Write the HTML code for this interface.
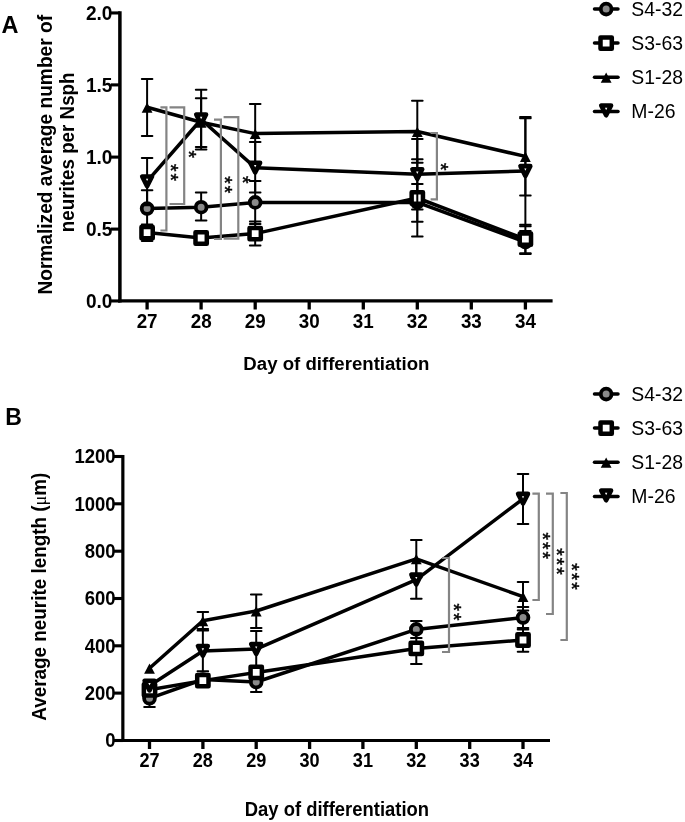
<!DOCTYPE html>
<html><head><meta charset="utf-8"><title>Figure</title>
<style>
html,body{margin:0;padding:0;background:#fff;}
svg{display:block;font-family:"Liberation Sans",sans-serif;fill:#000;will-change:transform;}
</style></head>
<body>
<svg width="685" height="822" viewBox="0 0 685 822">
<rect width="685" height="822" fill="#fff"/>
<g id="panelA">
<line x1="119.9" y1="11.3" x2="119.9" y2="302.55" stroke="#000" stroke-width="3.5"/>
<line x1="118.15" y1="300.95" x2="552.6" y2="300.95" stroke="#000" stroke-width="3.2"/>
<line x1="110.9" y1="12.95" x2="119.9" y2="12.95" stroke="#000" stroke-width="3.1"/>
<text transform="translate(112.40 19.85) scale(0.935,1)" font-size="20.4" font-weight="bold" text-anchor="end">2.0</text>
<line x1="110.9" y1="84.9" x2="119.9" y2="84.9" stroke="#000" stroke-width="3.1"/>
<text transform="translate(112.40 91.80) scale(0.935,1)" font-size="20.4" font-weight="bold" text-anchor="end">1.5</text>
<line x1="110.9" y1="157.1" x2="119.9" y2="157.1" stroke="#000" stroke-width="3.1"/>
<text transform="translate(112.40 164.00) scale(0.935,1)" font-size="20.4" font-weight="bold" text-anchor="end">1.0</text>
<line x1="110.9" y1="229.1" x2="119.9" y2="229.1" stroke="#000" stroke-width="3.1"/>
<text transform="translate(112.40 236.00) scale(0.935,1)" font-size="20.4" font-weight="bold" text-anchor="end">0.5</text>
<line x1="110.9" y1="300.95" x2="119.9" y2="300.95" stroke="#000" stroke-width="3.1"/>
<text transform="translate(112.40 307.85) scale(0.935,1)" font-size="20.4" font-weight="bold" text-anchor="end">0.0</text>
<line x1="147.1" y1="300.95" x2="147.1" y2="309.5" stroke="#000" stroke-width="3.3"/>
<text transform="translate(147.10 328.00) scale(0.965,1)" font-size="19.5" font-weight="bold" text-anchor="middle">27</text>
<line x1="201.1" y1="300.95" x2="201.1" y2="309.5" stroke="#000" stroke-width="3.3"/>
<text transform="translate(201.14 328.00) scale(0.965,1)" font-size="19.5" font-weight="bold" text-anchor="middle">28</text>
<line x1="255.2" y1="300.95" x2="255.2" y2="309.5" stroke="#000" stroke-width="3.3"/>
<text transform="translate(255.18 328.00) scale(0.965,1)" font-size="19.5" font-weight="bold" text-anchor="middle">29</text>
<line x1="309.2" y1="300.95" x2="309.2" y2="309.5" stroke="#000" stroke-width="3.3"/>
<text transform="translate(309.22 328.00) scale(0.965,1)" font-size="19.5" font-weight="bold" text-anchor="middle">30</text>
<line x1="363.3" y1="300.95" x2="363.3" y2="309.5" stroke="#000" stroke-width="3.3"/>
<text transform="translate(363.26 328.00) scale(0.965,1)" font-size="19.5" font-weight="bold" text-anchor="middle">31</text>
<line x1="417.3" y1="300.95" x2="417.3" y2="309.5" stroke="#000" stroke-width="3.3"/>
<text transform="translate(417.30 328.00) scale(0.965,1)" font-size="19.5" font-weight="bold" text-anchor="middle">32</text>
<line x1="471.3" y1="300.95" x2="471.3" y2="309.5" stroke="#000" stroke-width="3.3"/>
<text transform="translate(471.34 328.00) scale(0.965,1)" font-size="19.5" font-weight="bold" text-anchor="middle">33</text>
<line x1="525.4" y1="300.95" x2="525.4" y2="309.5" stroke="#000" stroke-width="3.3"/>
<text transform="translate(525.38 328.00) scale(0.965,1)" font-size="19.5" font-weight="bold" text-anchor="middle">34</text>
<text transform="translate(336.40 370.10) scale(0.98,1)" font-size="19.0" font-weight="bold" text-anchor="middle">Day of differentiation</text>
<text transform="translate(51.50 154.80) rotate(-90) scale(0.912,1)" font-size="21" font-weight="bold" text-anchor="middle">Normalized average number of</text>
<text transform="translate(74.20 152.30) rotate(-90) scale(0.926,1)" font-size="20.3" font-weight="bold" text-anchor="middle">neurites per Nsph</text>
<text x="1.6" y="33.2" font-size="23.5" font-weight="bold">A</text>
<g>
<line x1="147.10" y1="190.2" x2="147.10" y2="227.2" stroke="#000" stroke-width="2.0"/><line x1="141.80" y1="190.2" x2="152.40" y2="190.2" stroke="#000" stroke-width="2.0" stroke-linecap="round"/><line x1="141.80" y1="227.2" x2="152.40" y2="227.2" stroke="#000" stroke-width="2.0" stroke-linecap="round"/>
<line x1="201.14" y1="192.4" x2="201.14" y2="220.6" stroke="#000" stroke-width="2.0"/><line x1="195.84" y1="192.4" x2="206.44" y2="192.4" stroke="#000" stroke-width="2.0" stroke-linecap="round"/><line x1="195.84" y1="220.6" x2="206.44" y2="220.6" stroke="#000" stroke-width="2.0" stroke-linecap="round"/>
<line x1="255.18" y1="181" x2="255.18" y2="224.1" stroke="#000" stroke-width="2.0"/><line x1="249.88" y1="181" x2="260.48" y2="181" stroke="#000" stroke-width="2.0" stroke-linecap="round"/><line x1="249.88" y1="224.1" x2="260.48" y2="224.1" stroke="#000" stroke-width="2.0" stroke-linecap="round"/>
<line x1="417.30" y1="183.9" x2="417.30" y2="221.7" stroke="#000" stroke-width="2.0"/><line x1="412.00" y1="183.9" x2="422.60" y2="183.9" stroke="#000" stroke-width="2.0" stroke-linecap="round"/><line x1="412.00" y1="221.7" x2="422.60" y2="221.7" stroke="#000" stroke-width="2.0" stroke-linecap="round"/>
<line x1="525.38" y1="231" x2="525.38" y2="253.2" stroke="#000" stroke-width="2.0"/><line x1="520.08" y1="231" x2="530.68" y2="231" stroke="#000" stroke-width="2.0" stroke-linecap="round"/><line x1="520.08" y1="253.2" x2="530.68" y2="253.2" stroke="#000" stroke-width="2.0" stroke-linecap="round"/>
<polyline fill="none" stroke="#000" stroke-width="3.5" stroke-linejoin="round" points="147.10,208.60 201.14,207.20 255.18,202.40 417.30,202.40 525.38,242.10"/>
<circle cx="147.10" cy="208.60" r="5.4" fill="#8a8a8a" stroke="#000" stroke-width="3.8"/>
<circle cx="201.14" cy="207.20" r="5.4" fill="#8a8a8a" stroke="#000" stroke-width="3.8"/>
<circle cx="255.18" cy="202.40" r="5.4" fill="#8a8a8a" stroke="#000" stroke-width="3.8"/>
<circle cx="417.30" cy="202.40" r="5.4" fill="#8a8a8a" stroke="#000" stroke-width="3.8"/>
<circle cx="525.38" cy="242.10" r="5.4" fill="#8a8a8a" stroke="#000" stroke-width="3.8"/>
</g>
<g>
<line x1="147.10" y1="224.4" x2="147.10" y2="241.1" stroke="#000" stroke-width="2.0"/><line x1="141.80" y1="224.4" x2="152.40" y2="224.4" stroke="#000" stroke-width="2.0" stroke-linecap="round"/><line x1="141.80" y1="241.1" x2="152.40" y2="241.1" stroke="#000" stroke-width="2.0" stroke-linecap="round"/>
<line x1="255.18" y1="221.6" x2="255.18" y2="245.6" stroke="#000" stroke-width="2.0"/><line x1="249.88" y1="221.6" x2="260.48" y2="221.6" stroke="#000" stroke-width="2.0" stroke-linecap="round"/><line x1="249.88" y1="245.6" x2="260.48" y2="245.6" stroke="#000" stroke-width="2.0" stroke-linecap="round"/>
<line x1="417.30" y1="159.2" x2="417.30" y2="236.4" stroke="#000" stroke-width="2.0"/><line x1="412.00" y1="159.2" x2="422.60" y2="159.2" stroke="#000" stroke-width="2.0" stroke-linecap="round"/><line x1="412.00" y1="236.4" x2="422.60" y2="236.4" stroke="#000" stroke-width="2.0" stroke-linecap="round"/>
<line x1="525.38" y1="224.7" x2="525.38" y2="254.1" stroke="#000" stroke-width="2.0"/><line x1="520.08" y1="224.7" x2="530.68" y2="224.7" stroke="#000" stroke-width="2.0" stroke-linecap="round"/><line x1="520.08" y1="254.1" x2="530.68" y2="254.1" stroke="#000" stroke-width="2.0" stroke-linecap="round"/>
<polyline fill="none" stroke="#000" stroke-width="3.5" stroke-linejoin="round" points="147.10,232.60 201.14,238.00 255.18,233.60 417.30,198.00 525.38,239.20"/>
<rect x="141.45" y="226.95" width="11.3" height="11.3" fill="#fff" stroke="#000" stroke-width="4.5" stroke-linejoin="round"/>
<rect x="195.49" y="232.35" width="11.3" height="11.3" fill="#fff" stroke="#000" stroke-width="4.5" stroke-linejoin="round"/>
<rect x="249.53" y="227.95" width="11.3" height="11.3" fill="#fff" stroke="#000" stroke-width="4.5" stroke-linejoin="round"/>
<rect x="411.65" y="192.35" width="11.3" height="11.3" fill="#fff" stroke="#000" stroke-width="4.5" stroke-linejoin="round"/>
<rect x="519.73" y="233.55" width="11.3" height="11.3" fill="#fff" stroke="#000" stroke-width="4.5" stroke-linejoin="round"/>
</g>
<g>
<line x1="147.10" y1="79" x2="147.10" y2="136" stroke="#000" stroke-width="2.0"/><line x1="141.80" y1="79" x2="152.40" y2="79" stroke="#000" stroke-width="2.0" stroke-linecap="round"/><line x1="141.80" y1="136" x2="152.40" y2="136" stroke="#000" stroke-width="2.0" stroke-linecap="round"/>
<line x1="201.14" y1="98.3" x2="201.14" y2="147" stroke="#000" stroke-width="2.0"/><line x1="195.84" y1="98.3" x2="206.44" y2="98.3" stroke="#000" stroke-width="2.0" stroke-linecap="round"/><line x1="195.84" y1="147" x2="206.44" y2="147" stroke="#000" stroke-width="2.0" stroke-linecap="round"/>
<line x1="255.18" y1="103.9" x2="255.18" y2="163.6" stroke="#000" stroke-width="2.0"/><line x1="249.88" y1="103.9" x2="260.48" y2="103.9" stroke="#000" stroke-width="2.0" stroke-linecap="round"/><line x1="249.88" y1="163.6" x2="260.48" y2="163.6" stroke="#000" stroke-width="2.0" stroke-linecap="round"/>
<line x1="417.30" y1="100.8" x2="417.30" y2="162.8" stroke="#000" stroke-width="2.0"/><line x1="412.00" y1="100.8" x2="422.60" y2="100.8" stroke="#000" stroke-width="2.0" stroke-linecap="round"/><line x1="412.00" y1="162.8" x2="422.60" y2="162.8" stroke="#000" stroke-width="2.0" stroke-linecap="round"/>
<line x1="525.38" y1="118.2" x2="525.38" y2="195.4" stroke="#000" stroke-width="2.0"/><line x1="520.08" y1="118.2" x2="530.68" y2="118.2" stroke="#000" stroke-width="2.0" stroke-linecap="round"/><line x1="520.08" y1="195.4" x2="530.68" y2="195.4" stroke="#000" stroke-width="2.0" stroke-linecap="round"/>
<polyline fill="none" stroke="#000" stroke-width="3.5" stroke-linejoin="round" points="147.10,107.20 201.14,122.20 255.18,133.60 417.30,131.50 525.38,156.40"/>
<path d="M141.70,112.70 L152.50,112.70 L147.10,102.40 Z" fill="#000"/>
<path d="M195.74,127.70 L206.54,127.70 L201.14,117.40 Z" fill="#000"/>
<path d="M249.78,139.10 L260.58,139.10 L255.18,128.80 Z" fill="#000"/>
<path d="M411.90,137.00 L422.70,137.00 L417.30,126.70 Z" fill="#000"/>
<path d="M519.98,161.90 L530.78,161.90 L525.38,151.60 Z" fill="#000"/>
</g>
<g>
<line x1="147.10" y1="158.1" x2="147.10" y2="205.2" stroke="#000" stroke-width="2.0"/><line x1="141.80" y1="158.1" x2="152.40" y2="158.1" stroke="#000" stroke-width="2.0" stroke-linecap="round"/><line x1="141.80" y1="205.2" x2="152.40" y2="205.2" stroke="#000" stroke-width="2.0" stroke-linecap="round"/>
<line x1="201.14" y1="89.8" x2="201.14" y2="149.6" stroke="#000" stroke-width="2.0"/><line x1="195.84" y1="89.8" x2="206.44" y2="89.8" stroke="#000" stroke-width="2.0" stroke-linecap="round"/><line x1="195.84" y1="149.6" x2="206.44" y2="149.6" stroke="#000" stroke-width="2.0" stroke-linecap="round"/>
<line x1="255.18" y1="142" x2="255.18" y2="192.6" stroke="#000" stroke-width="2.0"/><line x1="249.88" y1="142" x2="260.48" y2="142" stroke="#000" stroke-width="2.0" stroke-linecap="round"/><line x1="249.88" y1="192.6" x2="260.48" y2="192.6" stroke="#000" stroke-width="2.0" stroke-linecap="round"/>
<line x1="417.30" y1="139" x2="417.30" y2="209.5" stroke="#000" stroke-width="2.0"/><line x1="412.00" y1="139" x2="422.60" y2="139" stroke="#000" stroke-width="2.0" stroke-linecap="round"/><line x1="412.00" y1="209.5" x2="422.60" y2="209.5" stroke="#000" stroke-width="2.0" stroke-linecap="round"/>
<line x1="525.38" y1="117.1" x2="525.38" y2="226.3" stroke="#000" stroke-width="2.0"/><line x1="520.08" y1="117.1" x2="530.68" y2="117.1" stroke="#000" stroke-width="2.0" stroke-linecap="round"/><line x1="520.08" y1="226.3" x2="530.68" y2="226.3" stroke="#000" stroke-width="2.0" stroke-linecap="round"/>
<polyline fill="none" stroke="#000" stroke-width="3.5" stroke-linejoin="round" points="147.10,181.40 201.14,119.50 255.18,167.70 417.30,174.20 525.38,171.10"/>
<path d="M142.20,176.45 L152.00,176.45 L147.10,186.15 Z" fill="#fff" stroke="#000" stroke-width="4.6" stroke-linejoin="round"/>
<path d="M196.24,114.55 L206.04,114.55 L201.14,124.25 Z" fill="#fff" stroke="#000" stroke-width="4.6" stroke-linejoin="round"/>
<path d="M250.28,162.75 L260.08,162.75 L255.18,172.45 Z" fill="#fff" stroke="#000" stroke-width="4.6" stroke-linejoin="round"/>
<path d="M412.40,169.25 L422.20,169.25 L417.30,178.95 Z" fill="#fff" stroke="#000" stroke-width="4.6" stroke-linejoin="round"/>
<path d="M520.48,166.15 L530.28,166.15 L525.38,175.85 Z" fill="#fff" stroke="#000" stroke-width="4.6" stroke-linejoin="round"/>
</g>
<polyline fill="none" stroke="#848484" stroke-width="2.2" points="160.4,107.4 166.4,107.4 166.4,230.5 160.4,230.5"/>
<polyline fill="none" stroke="#848484" stroke-width="2.2" points="169.5,107.4 184.2,107.4 184.2,204 169.5,204"/>
<polyline fill="none" stroke="#848484" stroke-width="2.2" points="214,119.6 220.9,119.6 220.9,239 214,239"/>
<polyline fill="none" stroke="#848484" stroke-width="2.2" points="223.6,117.2 238.3,117.2 238.3,238.6 223.6,238.6"/>
<polyline fill="none" stroke="#848484" stroke-width="2.2" points="430.6,133 436.9,133 436.9,199.4 430.6,199.4"/>
<text x="164.16" y="173.45" font-size="19.5" letter-spacing="1.9" text-anchor="middle" stroke="#000" stroke-width="0.45" transform="rotate(90 164.16 173.45)">**</text>
<text x="181.96" y="155.25" font-size="19.5" letter-spacing="1.9" text-anchor="middle" stroke="#000" stroke-width="0.45" transform="rotate(90 181.96 155.25)">*</text>
<text x="218.36" y="185.85" font-size="19.5" letter-spacing="1.9" text-anchor="middle" stroke="#000" stroke-width="0.45" transform="rotate(90 218.36 185.85)">**</text>
<text x="236.06" y="180.85" font-size="19.5" letter-spacing="1.9" text-anchor="middle" stroke="#000" stroke-width="0.45" transform="rotate(90 236.06 180.85)">*</text>
<text x="434.46" y="167.75" font-size="19.5" letter-spacing="1.9" text-anchor="middle" stroke="#000" stroke-width="0.45" transform="rotate(90 434.46 167.75)">*</text>
</g>
<g><line x1="594.5" y1="9.10" x2="618" y2="9.10" stroke="#000" stroke-width="3.5" stroke-linecap="round"/><circle cx="606.15" cy="9.10" r="5.4" fill="#8a8a8a" stroke="#000" stroke-width="3.8"/><text x="631.3" y="16.0" font-size="19.4">S4-32</text><line x1="594.5" y1="43.05" x2="618" y2="43.05" stroke="#000" stroke-width="3.5" stroke-linecap="round"/><rect x="600.50" y="37.40" width="11.3" height="11.3" fill="#fff" stroke="#000" stroke-width="4.5" stroke-linejoin="round"/><text x="631.3" y="49.9" font-size="19.4">S3-63</text><line x1="594.5" y1="77.30" x2="618" y2="77.30" stroke="#000" stroke-width="3.5" stroke-linecap="round"/><path d="M600.75,82.80 L611.55,82.80 L606.15,72.50 Z" fill="#000"/><text x="631.3" y="83.8" font-size="19.4">S1-28</text><line x1="594.5" y1="111.40" x2="618" y2="111.40" stroke="#000" stroke-width="3.5" stroke-linecap="round"/><path d="M601.25,105.55 L611.05,105.55 L606.15,115.25 Z" fill="#fff" stroke="#000" stroke-width="4.6" stroke-linejoin="round"/><text x="631.3" y="117.9" font-size="19.4">M-26</text></g>
<g><line x1="594.5" y1="394.10" x2="618" y2="394.10" stroke="#000" stroke-width="3.5" stroke-linecap="round"/><circle cx="606.15" cy="394.10" r="5.4" fill="#8a8a8a" stroke="#000" stroke-width="3.8"/><text x="631.3" y="401.0" font-size="19.4">S4-32</text><line x1="594.5" y1="428.05" x2="618" y2="428.05" stroke="#000" stroke-width="3.5" stroke-linecap="round"/><rect x="600.50" y="422.40" width="11.3" height="11.3" fill="#fff" stroke="#000" stroke-width="4.5" stroke-linejoin="round"/><text x="631.3" y="434.9" font-size="19.4">S3-63</text><line x1="594.5" y1="462.30" x2="618" y2="462.30" stroke="#000" stroke-width="3.5" stroke-linecap="round"/><path d="M600.75,467.80 L611.55,467.80 L606.15,457.50 Z" fill="#000"/><text x="631.3" y="468.8" font-size="19.4">S1-28</text><line x1="594.5" y1="496.40" x2="618" y2="496.40" stroke="#000" stroke-width="3.5" stroke-linecap="round"/><path d="M601.25,490.55 L611.05,490.55 L606.15,500.25 Z" fill="#fff" stroke="#000" stroke-width="4.6" stroke-linejoin="round"/><text x="631.3" y="502.9" font-size="19.4">M-26</text></g>
<g id="panelB">
<line x1="122.85" y1="454.9" x2="122.85" y2="742.1" stroke="#000" stroke-width="3.2"/>
<line x1="121.25" y1="740.5" x2="550" y2="740.5" stroke="#000" stroke-width="3.2"/>
<line x1="114" y1="456.5" x2="122.85" y2="456.5" stroke="#000" stroke-width="3.1"/>
<text transform="translate(115.60 463.40) scale(0.88,1)" font-size="21" font-weight="bold" text-anchor="end">1200</text>
<line x1="114" y1="503.8" x2="122.85" y2="503.8" stroke="#000" stroke-width="3.1"/>
<text transform="translate(115.60 510.73) scale(0.88,1)" font-size="21" font-weight="bold" text-anchor="end">1000</text>
<line x1="114" y1="551.2" x2="122.85" y2="551.2" stroke="#000" stroke-width="3.1"/>
<text transform="translate(115.60 558.06) scale(0.88,1)" font-size="21" font-weight="bold" text-anchor="end">800</text>
<line x1="114" y1="598.5" x2="122.85" y2="598.5" stroke="#000" stroke-width="3.1"/>
<text transform="translate(115.60 605.39) scale(0.88,1)" font-size="21" font-weight="bold" text-anchor="end">600</text>
<line x1="114" y1="645.8" x2="122.85" y2="645.8" stroke="#000" stroke-width="3.1"/>
<text transform="translate(115.60 652.72) scale(0.88,1)" font-size="21" font-weight="bold" text-anchor="end">400</text>
<line x1="114" y1="693.1" x2="122.85" y2="693.1" stroke="#000" stroke-width="3.1"/>
<text transform="translate(115.60 700.05) scale(0.88,1)" font-size="21" font-weight="bold" text-anchor="end">200</text>
<line x1="114" y1="740.5" x2="122.85" y2="740.5" stroke="#000" stroke-width="3.1"/>
<text transform="translate(115.60 747.38) scale(0.88,1)" font-size="21" font-weight="bold" text-anchor="end">0</text>
<line x1="149.5" y1="740.5" x2="149.5" y2="749" stroke="#000" stroke-width="3.3"/>
<text transform="translate(149.50 766.90) scale(0.93,1)" font-size="19.5" font-weight="bold" text-anchor="middle">27</text>
<line x1="202.9" y1="740.5" x2="202.9" y2="749" stroke="#000" stroke-width="3.3"/>
<text transform="translate(202.86 766.90) scale(0.93,1)" font-size="19.5" font-weight="bold" text-anchor="middle">28</text>
<line x1="256.2" y1="740.5" x2="256.2" y2="749" stroke="#000" stroke-width="3.3"/>
<text transform="translate(256.22 766.90) scale(0.93,1)" font-size="19.5" font-weight="bold" text-anchor="middle">29</text>
<line x1="309.6" y1="740.5" x2="309.6" y2="749" stroke="#000" stroke-width="3.3"/>
<text transform="translate(309.58 766.90) scale(0.93,1)" font-size="19.5" font-weight="bold" text-anchor="middle">30</text>
<line x1="362.9" y1="740.5" x2="362.9" y2="749" stroke="#000" stroke-width="3.3"/>
<text transform="translate(362.94 766.90) scale(0.93,1)" font-size="19.5" font-weight="bold" text-anchor="middle">31</text>
<line x1="416.3" y1="740.5" x2="416.3" y2="749" stroke="#000" stroke-width="3.3"/>
<text transform="translate(416.30 766.90) scale(0.93,1)" font-size="19.5" font-weight="bold" text-anchor="middle">32</text>
<line x1="469.7" y1="740.5" x2="469.7" y2="749" stroke="#000" stroke-width="3.3"/>
<text transform="translate(469.66 766.90) scale(0.93,1)" font-size="19.5" font-weight="bold" text-anchor="middle">33</text>
<line x1="523.0" y1="740.5" x2="523.0" y2="749" stroke="#000" stroke-width="3.3"/>
<text transform="translate(523.02 766.90) scale(0.93,1)" font-size="19.5" font-weight="bold" text-anchor="middle">34</text>
<text transform="translate(336.90 815.50) scale(0.955,1)" font-size="19.3" font-weight="bold" text-anchor="middle">Day of differentiation</text>
<text transform="translate(45.80 596.70) rotate(-90) scale(0.926,1)" font-size="20.4" font-weight="bold" text-anchor="middle">Average neurite length (<tspan font-weight="normal" font-family="Liberation Serif" font-size="19.5">μ</tspan>m)</text>
<text x="5.2" y="424.8" font-size="23" font-weight="bold">B</text>
<g>
<line x1="149.50" y1="689.6" x2="149.50" y2="707" stroke="#000" stroke-width="2.0"/><line x1="144.20" y1="689.6" x2="154.80" y2="689.6" stroke="#000" stroke-width="2.0" stroke-linecap="round"/><line x1="144.20" y1="707" x2="154.80" y2="707" stroke="#000" stroke-width="2.0" stroke-linecap="round"/>
<line x1="256.22" y1="672" x2="256.22" y2="692" stroke="#000" stroke-width="2.0"/><line x1="250.92" y1="672" x2="261.52" y2="672" stroke="#000" stroke-width="2.0" stroke-linecap="round"/><line x1="250.92" y1="692" x2="261.52" y2="692" stroke="#000" stroke-width="2.0" stroke-linecap="round"/>
<line x1="416.30" y1="621" x2="416.30" y2="638" stroke="#000" stroke-width="2.0"/><line x1="411.00" y1="621" x2="421.60" y2="621" stroke="#000" stroke-width="2.0" stroke-linecap="round"/><line x1="411.00" y1="638" x2="421.60" y2="638" stroke="#000" stroke-width="2.0" stroke-linecap="round"/>
<line x1="523.02" y1="607" x2="523.02" y2="628" stroke="#000" stroke-width="2.0"/><line x1="517.72" y1="607" x2="528.32" y2="607" stroke="#000" stroke-width="2.0" stroke-linecap="round"/><line x1="517.72" y1="628" x2="528.32" y2="628" stroke="#000" stroke-width="2.0" stroke-linecap="round"/>
<polyline fill="none" stroke="#000" stroke-width="3.5" stroke-linejoin="round" points="149.50,698.30 202.86,679.50 256.22,682.00 416.30,629.40 523.02,617.60"/>
<circle cx="149.50" cy="698.30" r="5.4" fill="#8a8a8a" stroke="#000" stroke-width="3.8"/>
<circle cx="202.86" cy="679.50" r="5.4" fill="#8a8a8a" stroke="#000" stroke-width="3.8"/>
<circle cx="256.22" cy="682.00" r="5.4" fill="#8a8a8a" stroke="#000" stroke-width="3.8"/>
<circle cx="416.30" cy="629.40" r="5.4" fill="#8a8a8a" stroke="#000" stroke-width="3.8"/>
<circle cx="523.02" cy="617.60" r="5.4" fill="#8a8a8a" stroke="#000" stroke-width="3.8"/>
</g>
<g>
<line x1="416.30" y1="632.8" x2="416.30" y2="664" stroke="#000" stroke-width="2.0"/><line x1="411.00" y1="632.8" x2="421.60" y2="632.8" stroke="#000" stroke-width="2.0" stroke-linecap="round"/><line x1="411.00" y1="664" x2="421.60" y2="664" stroke="#000" stroke-width="2.0" stroke-linecap="round"/>
<line x1="523.02" y1="629.6" x2="523.02" y2="651.8" stroke="#000" stroke-width="2.0"/><line x1="517.72" y1="629.6" x2="528.32" y2="629.6" stroke="#000" stroke-width="2.0" stroke-linecap="round"/><line x1="517.72" y1="651.8" x2="528.32" y2="651.8" stroke="#000" stroke-width="2.0" stroke-linecap="round"/>
<polyline fill="none" stroke="#000" stroke-width="3.5" stroke-linejoin="round" points="149.50,689.80 202.86,680.60 256.22,672.40 416.30,648.40 523.02,640.00"/>
<rect x="143.85" y="684.15" width="11.3" height="11.3" fill="#fff" stroke="#000" stroke-width="4.5" stroke-linejoin="round"/>
<rect x="197.21" y="674.95" width="11.3" height="11.3" fill="#fff" stroke="#000" stroke-width="4.5" stroke-linejoin="round"/>
<rect x="250.57" y="666.75" width="11.3" height="11.3" fill="#fff" stroke="#000" stroke-width="4.5" stroke-linejoin="round"/>
<rect x="410.65" y="642.75" width="11.3" height="11.3" fill="#fff" stroke="#000" stroke-width="4.5" stroke-linejoin="round"/>
<rect x="517.37" y="634.35" width="11.3" height="11.3" fill="#fff" stroke="#000" stroke-width="4.5" stroke-linejoin="round"/>
</g>
<g>
<line x1="202.86" y1="612" x2="202.86" y2="629" stroke="#000" stroke-width="2.0"/><line x1="197.56" y1="612" x2="208.16" y2="612" stroke="#000" stroke-width="2.0" stroke-linecap="round"/><line x1="197.56" y1="629" x2="208.16" y2="629" stroke="#000" stroke-width="2.0" stroke-linecap="round"/>
<line x1="256.22" y1="594.4" x2="256.22" y2="628" stroke="#000" stroke-width="2.0"/><line x1="250.92" y1="594.4" x2="261.52" y2="594.4" stroke="#000" stroke-width="2.0" stroke-linecap="round"/><line x1="250.92" y1="628" x2="261.52" y2="628" stroke="#000" stroke-width="2.0" stroke-linecap="round"/>
<line x1="416.30" y1="540" x2="416.30" y2="577.6" stroke="#000" stroke-width="2.0"/><line x1="411.00" y1="540" x2="421.60" y2="540" stroke="#000" stroke-width="2.0" stroke-linecap="round"/><line x1="411.00" y1="577.6" x2="421.60" y2="577.6" stroke="#000" stroke-width="2.0" stroke-linecap="round"/>
<line x1="523.02" y1="582" x2="523.02" y2="610.4" stroke="#000" stroke-width="2.0"/><line x1="517.72" y1="582" x2="528.32" y2="582" stroke="#000" stroke-width="2.0" stroke-linecap="round"/><line x1="517.72" y1="610.4" x2="528.32" y2="610.4" stroke="#000" stroke-width="2.0" stroke-linecap="round"/>
<polyline fill="none" stroke="#000" stroke-width="3.5" stroke-linejoin="round" points="149.50,668.30 202.86,620.80 256.22,611.00 416.30,558.80 523.02,596.60"/>
<path d="M144.10,673.80 L154.90,673.80 L149.50,663.50 Z" fill="#000"/>
<path d="M197.46,626.30 L208.26,626.30 L202.86,616.00 Z" fill="#000"/>
<path d="M250.82,616.50 L261.62,616.50 L256.22,606.20 Z" fill="#000"/>
<path d="M410.90,564.30 L421.70,564.30 L416.30,554.00 Z" fill="#000"/>
<path d="M517.62,602.10 L528.42,602.10 L523.02,591.80 Z" fill="#000"/>
</g>
<g>
<line x1="202.86" y1="630.5" x2="202.86" y2="671.3" stroke="#000" stroke-width="2.0"/><line x1="197.56" y1="630.5" x2="208.16" y2="630.5" stroke="#000" stroke-width="2.0" stroke-linecap="round"/><line x1="197.56" y1="671.3" x2="208.16" y2="671.3" stroke="#000" stroke-width="2.0" stroke-linecap="round"/>
<line x1="256.22" y1="631" x2="256.22" y2="667.2" stroke="#000" stroke-width="2.0"/><line x1="250.92" y1="631" x2="261.52" y2="631" stroke="#000" stroke-width="2.0" stroke-linecap="round"/><line x1="250.92" y1="667.2" x2="261.52" y2="667.2" stroke="#000" stroke-width="2.0" stroke-linecap="round"/>
<line x1="416.30" y1="560.4" x2="416.30" y2="598.8" stroke="#000" stroke-width="2.0"/><line x1="411.00" y1="560.4" x2="421.60" y2="560.4" stroke="#000" stroke-width="2.0" stroke-linecap="round"/><line x1="411.00" y1="598.8" x2="421.60" y2="598.8" stroke="#000" stroke-width="2.0" stroke-linecap="round"/>
<line x1="523.02" y1="474" x2="523.02" y2="524" stroke="#000" stroke-width="2.0"/><line x1="517.72" y1="474" x2="528.32" y2="474" stroke="#000" stroke-width="2.0" stroke-linecap="round"/><line x1="517.72" y1="524" x2="528.32" y2="524" stroke="#000" stroke-width="2.0" stroke-linecap="round"/>
<polyline fill="none" stroke="#000" stroke-width="3.5" stroke-linejoin="round" points="149.50,685.70 202.86,651.00 256.22,649.10 416.30,579.60 523.02,498.80"/>
<path d="M144.60,680.75 L154.40,680.75 L149.50,690.45 Z" fill="#fff" stroke="#000" stroke-width="4.6" stroke-linejoin="round"/>
<path d="M197.96,646.05 L207.76,646.05 L202.86,655.75 Z" fill="#fff" stroke="#000" stroke-width="4.6" stroke-linejoin="round"/>
<path d="M251.32,644.15 L261.12,644.15 L256.22,653.85 Z" fill="#fff" stroke="#000" stroke-width="4.6" stroke-linejoin="round"/>
<path d="M411.40,574.65 L421.20,574.65 L416.30,584.35 Z" fill="#fff" stroke="#000" stroke-width="4.6" stroke-linejoin="round"/>
<path d="M518.12,493.85 L527.92,493.85 L523.02,503.55 Z" fill="#fff" stroke="#000" stroke-width="4.6" stroke-linejoin="round"/>
</g>
<polyline fill="none" stroke="#848484" stroke-width="2.2" points="442,558 449,558 449,652 442,652"/>
<polyline fill="none" stroke="#848484" stroke-width="2.2" points="532.4,493.6 538.8,493.6 538.8,600 532.4,600"/>
<polyline fill="none" stroke="#848484" stroke-width="2.2" points="546,493.6 552.8,493.6 552.8,614 546,614"/>
<polyline fill="none" stroke="#848484" stroke-width="2.2" points="560.4,493 566.8,493 566.8,640 560.4,640"/>
<text x="447.01" y="613.00" font-size="19.5" letter-spacing="1.9" text-anchor="middle" stroke="#000" stroke-width="0.45" transform="rotate(90 447.01 613.00)">**</text>
<text x="536.26" y="546.75" font-size="19.5" letter-spacing="1.9" text-anchor="middle" stroke="#000" stroke-width="0.45" transform="rotate(90 536.26 546.75)">***</text>
<text x="549.86" y="562.55" font-size="19.5" letter-spacing="1.9" text-anchor="middle" stroke="#000" stroke-width="0.45" transform="rotate(90 549.86 562.55)">***</text>
<text x="564.66" y="577.45" font-size="19.5" letter-spacing="1.9" text-anchor="middle" stroke="#000" stroke-width="0.45" transform="rotate(90 564.66 577.45)">***</text>
</g>
</svg>
</body></html>
